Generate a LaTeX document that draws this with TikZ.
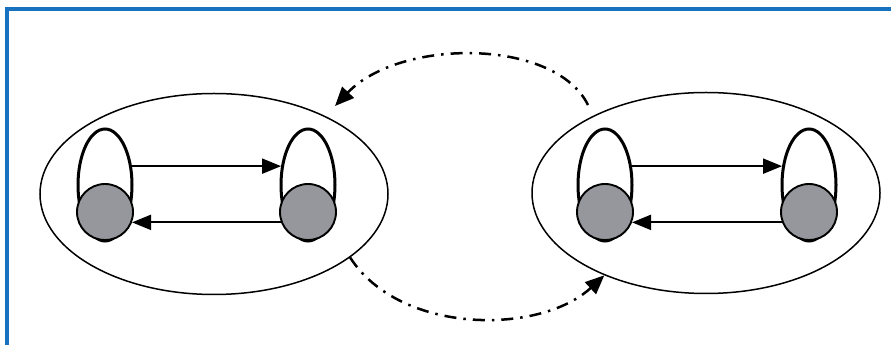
\documentclass[tikz,border=0pt]{standalone}
\usepackage{xcolor}
\usepackage{tikz}
\usetikzlibrary{positioning,arrows.meta,shapes.geometric,calc}

\definecolor{frameblue}{RGB}{24,114,192}
\definecolor{stategray}{RGB}{150,151,156}

\begin{document}
\begin{tikzpicture}[
  x=1pt, y=1pt,
  group/.style={
    draw=black, ellipse, line width=1.5pt,
    minimum width=348pt, minimum height=201pt, inner sep=0pt
  },
  state/.style={
    draw=black, circle, fill=stategray, line width=1.9pt,
    minimum size=56pt, inner sep=0pt
  },
  selfloop/.style={
    draw=black, ellipse, line width=3pt,
    minimum width=54pt, minimum height=112pt, inner sep=0pt
  },
  arr/.style={-{Triangle[length=19pt,width=15pt]}, line width=2pt},
  jump/.style={-{Triangle[length=19pt,width=16pt]}, line width=2.5pt,
    dash pattern=on 12pt off 7pt on 2.5pt off 7pt}
]
  \useasboundingbox (0,0) rectangle (891,345);

  % Frame
  \draw[frameblue, line width=4pt] (7,0) -- (7,336) -- (891,336);

  % Groups
  \node[group] (g1) at (214,151) {};
  \node[group] (g2) at (706,152) {};

  % Self loops (behind the states)
  \node[selfloop] (l1) at (105,160) {};
  \node[selfloop] (l2) at (308,160) {};
  \node[selfloop] (l3) at (605,160) {};
  \node[selfloop] (l4) at (809,160) {};

  % States
  \node[state] (s1) at (105,133) {};
  \node[state] (s2) at (308,133) {};
  \node[state] (s3) at (605,133) {};
  \node[state] (s4) at (809,133) {};

  % Arrows inside the groups
  \draw[arr] (l1.35) -- (l2.145);
  \draw[arr] (s2.201) -- (s1.-21);
  \draw[arr] (l3.35) -- (l4.145);
  \draw[arr] (s4.201) -- (s3.-21);

  % Jumps between the groups
  \coordinate (up-out) at ($(g2.center)+(-118,88)$);
  \coordinate (up-in) at ($(g1.center)+(121,88)$);
  \draw[jump] (up-out) .. controls (555,307) and (400,307) .. (up-in);
  \draw[jump] (g1.-25) .. controls (400,10) and (540,10) .. (g2.219);
\end{tikzpicture}
\end{document}
